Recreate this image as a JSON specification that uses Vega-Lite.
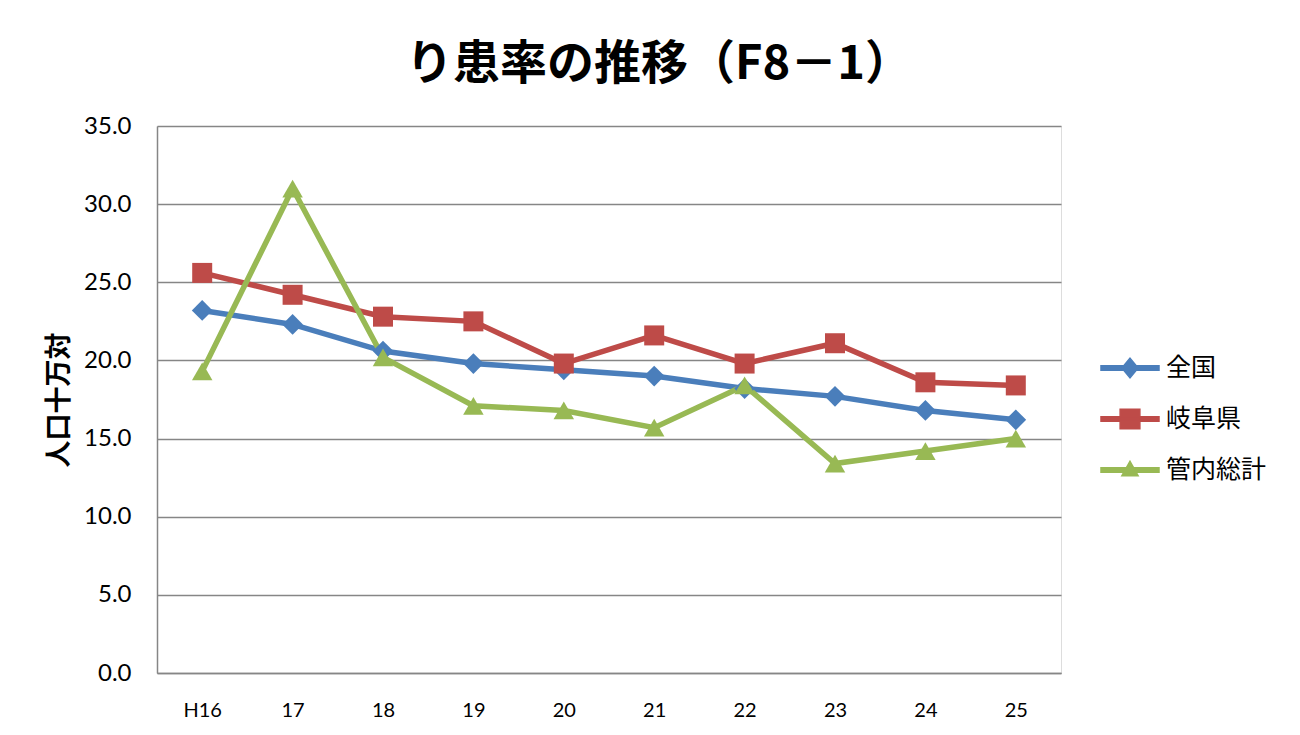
{
  "$schema": "https://vega.github.io/schema/vega-lite/v6.json",
  "autosize": {"type": "none"},
  "width": 904,
  "height": 547,
  "padding": {"left": 157, "top": 126, "right": 239, "bottom": 62},
  "background": "white",
  "config": {"legend": {"rowPadding": 8}},
  "title": {
    "text": "り患率の推移（F8－1）",
    "font": "Noto Sans CJK JP",
    "fontSize": 47,
    "fontWeight": "bold",
    "color": "#000000",
    "anchor": "middle",
    "dx": 50,
    "offset": 25
  },
  "data": {
    "values": [
      {"year": "H16", "series": "全国", "value": 23.2},
      {"year": "17", "series": "全国", "value": 22.3},
      {"year": "18", "series": "全国", "value": 20.6},
      {"year": "19", "series": "全国", "value": 19.8},
      {"year": "20", "series": "全国", "value": 19.4},
      {"year": "21", "series": "全国", "value": 19.0},
      {"year": "22", "series": "全国", "value": 18.2},
      {"year": "23", "series": "全国", "value": 17.7},
      {"year": "24", "series": "全国", "value": 16.8},
      {"year": "25", "series": "全国", "value": 16.2},
      {"year": "H16", "series": "岐阜県", "value": 25.6},
      {"year": "17", "series": "岐阜県", "value": 24.2},
      {"year": "18", "series": "岐阜県", "value": 22.8},
      {"year": "19", "series": "岐阜県", "value": 22.5},
      {"year": "20", "series": "岐阜県", "value": 19.8},
      {"year": "21", "series": "岐阜県", "value": 21.6},
      {"year": "22", "series": "岐阜県", "value": 19.8},
      {"year": "23", "series": "岐阜県", "value": 21.1},
      {"year": "24", "series": "岐阜県", "value": 18.6},
      {"year": "25", "series": "岐阜県", "value": 18.4},
      {"year": "H16", "series": "管内総計", "value": 19.3},
      {"year": "17", "series": "管内総計", "value": 31.0},
      {"year": "18", "series": "管内総計", "value": 20.2},
      {"year": "19", "series": "管内総計", "value": 17.1},
      {"year": "20", "series": "管内総計", "value": 16.8},
      {"year": "21", "series": "管内総計", "value": 15.7},
      {"year": "22", "series": "管内総計", "value": 18.4},
      {"year": "23", "series": "管内総計", "value": 13.4},
      {"year": "24", "series": "管内総計", "value": 14.2},
      {"year": "25", "series": "管内総計", "value": 15.0}
    ]
  },
  "encoding": {
    "x": {
      "field": "year",
      "type": "ordinal",
      "sort": ["H16", "17", "18", "19", "20", "21", "22", "23", "24", "25"],
      "scale": {"type": "point", "padding": 0.5},
      "axis": {
        "title": null,
        "labelAngle": 0,
        "labelFont": "Lato",
        "labelFontSize": 20,
        "labelColor": "#000000",
        "labelPadding": 27,
        "ticks": false,
        "grid": false,
        "domainColor": "#868686",
        "domainWidth": 1.5
      }
    },
    "y": {
      "field": "value",
      "type": "quantitative",
      "scale": {"domain": [0, 35], "nice": false, "zero": true},
      "axis": {
        "values": [0, 5, 10, 15, 20, 25, 30, 35],
        "format": ".1f",
        "title": "人口十万対",
        "titleFont": "Noto Sans CJK JP",
        "titleFontSize": 27,
        "titleFontWeight": "bold",
        "titleColor": "#000000",
        "titlePadding": 10,
        "labelFont": "Lato",
        "labelFontSize": 24,
        "labelColor": "#000000",
        "labelPadding": 26,
        "ticks": false,
        "grid": true,
        "gridColor": "#868686",
        "gridWidth": 1.5,
        "domainColor": "#868686",
        "domainWidth": 1.5
      }
    },
    "color": {
      "field": "series",
      "type": "nominal",
      "sort": ["全国", "岐阜県", "管内総計"],
      "scale": {
        "domain": ["全国", "岐阜県", "管内総計"],
        "range": ["#4A7EBB", "#BE4B48", "#98B954"]
      },
      "legend": {
        "title": null,
        "orient": "none",
        "legendX": 943,
        "legendY": 212,
        "symbolSize": 3364,
        "symbolOpacity": 1,
        "labelFont": "Noto Sans CJK JP",
        "labelFontSize": 25,
        "labelColor": "#000000",
        "labelOffset": 6,
        "rowPadding": 8
      }
    }
  },
  "layer": [
    {
      "mark": {"type": "line", "strokeWidth": 5.5}
    },
    {
      "transform": [{"filter": "datum.series === '全国'"}],
      "mark": {"type": "point", "shape": "diamond", "filled": true, "opacity": 1, "size": 430}
    },
    {
      "transform": [{"filter": "datum.series === '岐阜県'"}],
      "mark": {"type": "point", "shape": "square", "filled": true, "opacity": 1, "size": 400}
    },
    {
      "transform": [{"filter": "datum.series === '管内総計'"}],
      "mark": {"type": "point", "shape": "triangle-up", "filled": true, "opacity": 1, "size": 420}
    },
    {
      "mark": {"type": "point", "filled": true, "opacity": 1, "size": 0},
      "encoding": {
        "shape": {
          "field": "series",
          "type": "nominal",
          "scale": {
            "domain": ["全国", "岐阜県", "管内総計"],
            "range": [
              "M-1,-0.075H1V0.075H-1Z M0,-0.34L0.28,0L0,0.34L-0.28,0Z",
              "M-1,-0.075H1V0.075H-1Z M-0.34,-0.34H0.34V0.34H-0.34Z",
              "M-1,-0.075H1V0.075H-1Z M0,-0.3L0.28,0.2L-0.28,0.2Z"
            ]
          }
        }
      }
    }
  ]
}
